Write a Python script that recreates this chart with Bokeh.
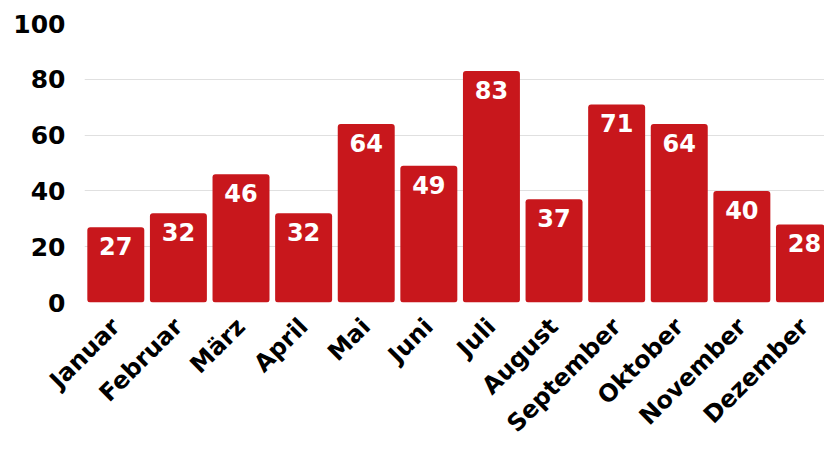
import numpy as np
from bokeh.plotting import figure
from bokeh.models import ColumnDataSource, Range1d, FixedTicker, LabelSet
from bokeh.core.properties import value
from bokeh.embed import file_html
from bokeh.resources import INLINE

months = ["Januar", "Februar", "März", "April", "Mai", "Juni", "Juli",
          "August", "September", "Oktober", "November", "Dezember"]
values = [27, 32, 46, 32, 64, 49, 83, 37, 71, 64, 40, 28]
y_ticks = [0, 20, 40, 60, 80, 100]

FONT = "DejaVu Sans"
RED = "#c8171c"

idx = list(range(len(months)))
src = ColumnDataSource(dict(x=idx, top=values, label=[str(v) for v in values]))

p = figure(width=824, height=453, output_backend="svg", toolbar_location=None,
           x_range=Range1d(-0.5, 11.32), y_range=Range1d(0, 100),
           min_border_left=84, min_border_right=0, min_border_top=23,
           min_border_bottom=151)
p.outline_line_color = None
p.background_fill_color = "white"

p.vbar(x="x", top="top", width=0.91, source=src, fill_color=RED,
       line_color=None, border_radius=3)

labels = LabelSet(x="x", y="top", text="label", source=src, text_color="white",
                  text_font=value(FONT), text_font_style="bold",
                  text_font_size="24px", text_align="center",
                  text_baseline="top", y_offset=-10)
p.add_layout(labels)

p.xgrid.grid_line_color = None
p.ygrid.grid_line_color = "#e0e0e0"
p.ygrid.grid_line_width = 1
p.yaxis.ticker = FixedTicker(ticks=y_ticks)
p.xaxis.ticker = FixedTicker(ticks=idx)
p.xaxis.major_label_overrides = {i: m for i, m in zip(idx, months)}

for ax in (p.xaxis, p.yaxis):
    ax.axis_line_color = None
    ax.major_tick_line_color = None
    ax.minor_tick_line_color = None
    ax.major_tick_out = 0
    ax.major_tick_in = 0
    ax.major_label_text_font = FONT
    ax.major_label_text_font_style = "bold"
    ax.major_label_text_color = "black"

p.yaxis.major_label_text_font_size = "25px"
p.yaxis.major_label_standoff = 19
p.xaxis.major_label_text_font_size = "24px"
p.xaxis.major_label_orientation = np.pi / 4
p.xaxis.major_label_standoff = 20

open("out.html", "w").write(file_html(p, INLINE))
